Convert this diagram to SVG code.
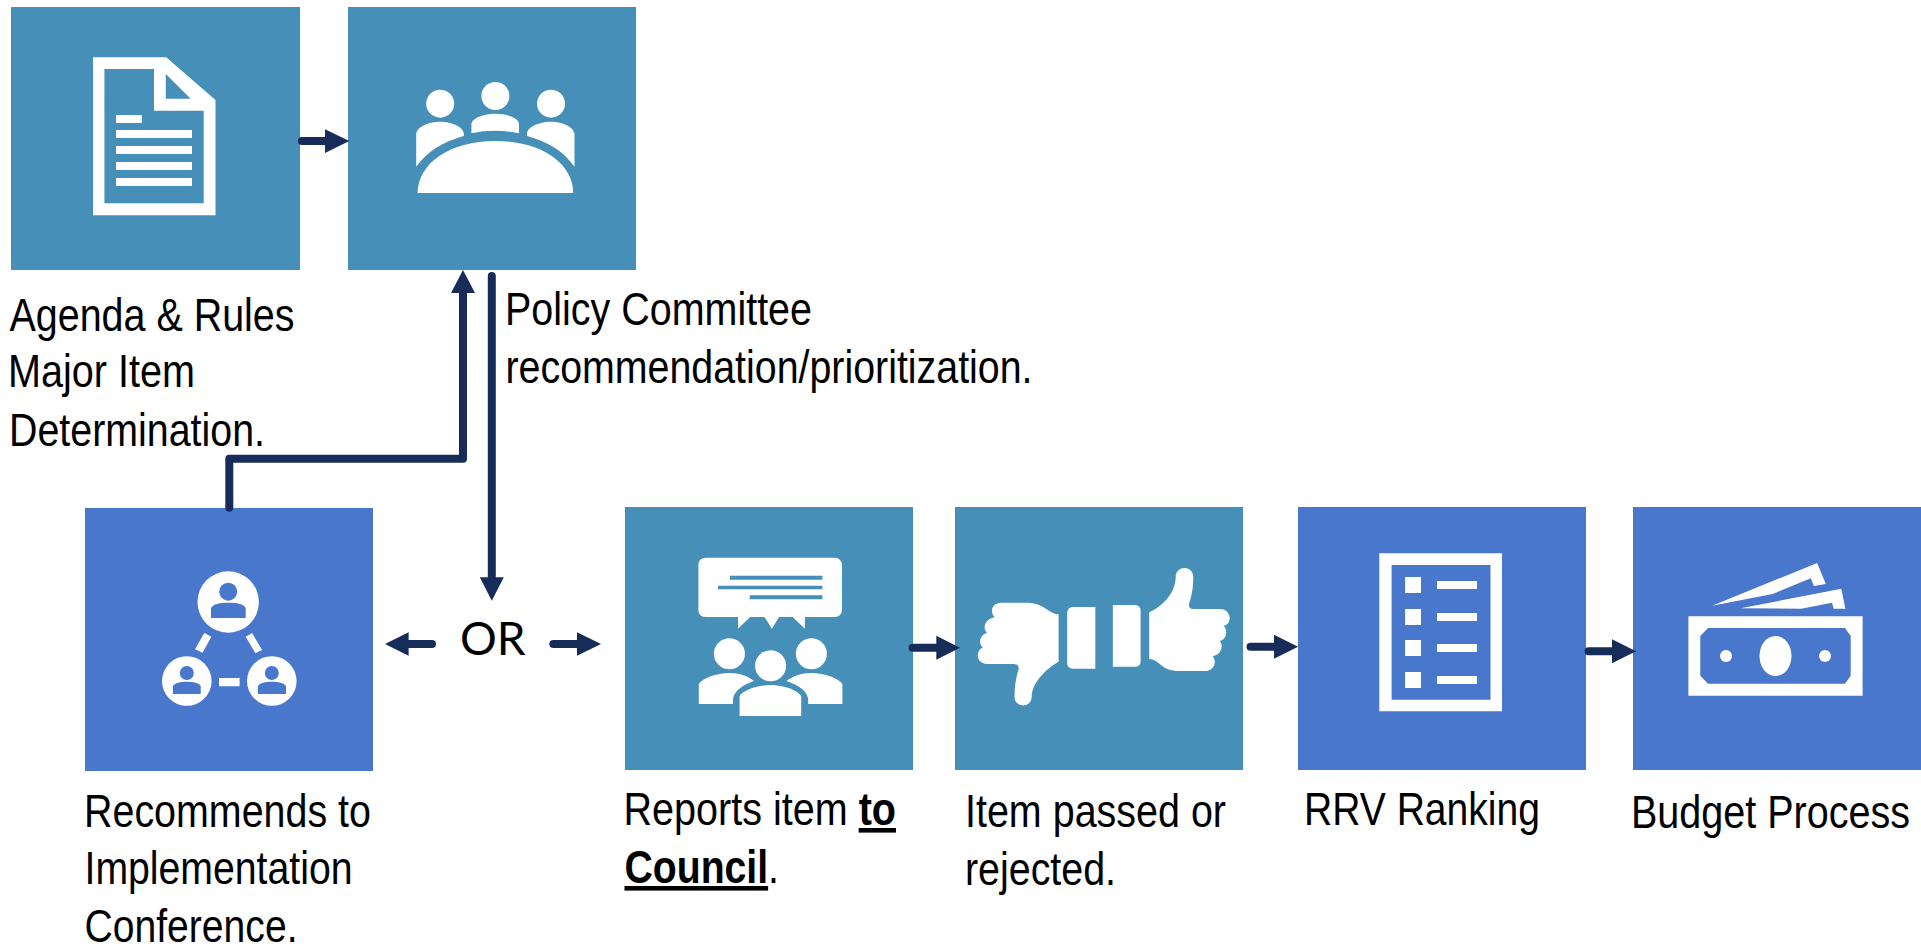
<svg xmlns="http://www.w3.org/2000/svg" width="1921" height="946" viewBox="0 0 1921 946">
<defs>
<style>
.teal{fill:#468fb9}.blue{fill:#4977cc}.w{fill:#fff}
.t{font-family:"Liberation Sans",Arial,sans-serif;font-size:46px;fill:#000}
.b{font-weight:bold;text-decoration:underline}
.or{font-family:Lato,"Noto Sans",sans-serif;font-size:46px;fill:#000}
.c{fill:none;stroke:#172c58;stroke-width:8;stroke-linecap:round;stroke-linejoin:round}
.h{fill:#172c58;stroke:none}
</style>
</defs>
<rect width="1921" height="946" fill="#fff"/>
<g id="node-agenda">
<rect class="teal" x="11" y="7" width="289" height="263"/>
<path class="w" fill-rule="evenodd" d="M93,57.3H166.2L215.5,100V215.3H93ZM104.4,69V203.3H203.7V110.7H154V69ZM165.8,74V98.7H190.7Z"/>
<path class="w" d="M116,115h25.8v8H116ZM116,130h76v8H116ZM116,146h76v8H116ZM116,162h76v8H116ZM116,178h76v8H116Z"/>
<text class="t" x="9.5" y="331" textLength="285" lengthAdjust="spacingAndGlyphs">Agenda &amp; Rules</text>
<text class="t" x="8" y="387.3" textLength="187" lengthAdjust="spacingAndGlyphs">Major Item</text>
<text class="t" x="9" y="445.5" textLength="256" lengthAdjust="spacingAndGlyphs">Determination.</text>
</g>
<g id="node-policy">
<rect class="teal" x="348" y="7" width="288" height="263"/>
<g class="w">
<circle cx="440.2" cy="103.7" r="14"/><circle cx="495.4" cy="96" r="14"/><circle cx="551" cy="103.7" r="14"/>
<path d="M416.2,166.7V134C417,126 430,121.7 440,121.7C452,121.7 463.8,127 463.8,134V136C442,142 427,152 416.2,166.7Z"/>
<path d="M471.4,133.3V124C472,118 484,113.7 495.2,113.7C507,113.7 519,118 519,124V133.3C503,130 487,130 471.4,133.3Z"/>
<path d="M574.5,166.7V134C573.7,126 561,121.7 551,121.7C539,121.7 527,127 527,134V136C549,142 564,152 574.5,166.7Z"/>
<path d="M417.5,193C418,163 450,141 495.4,141C541,141 573,163 573.2,193Z"/>
</g>
<text class="t" x="505" y="325" textLength="307" lengthAdjust="spacingAndGlyphs">Policy Committee</text>
<text class="t" x="505.5" y="382.7" textLength="527" lengthAdjust="spacingAndGlyphs">recommendation/prioritization.</text>
</g>
<g id="node-conference">
<rect class="blue" x="85" y="508" width="288" height="263"/>
<circle class="w" cx="228.2" cy="602" r="30.7"/>
<circle class="blue" cx="228.2" cy="591.7" r="9"/>
<path class="blue" d="M211,618V608C213,604 220,602.7 228.3,602.7C237,602.7 244,604 245.7,608V618Z"/>
<circle class="w" cx="186.8" cy="681" r="24.8"/>
<circle class="blue" cx="186.8" cy="673" r="7"/>
<path class="blue" d="M172.9,694V686C175,683 180,681.7 186.8,681.7C193,681.7 199,683 200.7,686V694Z"/>
<circle class="w" cx="271.8" cy="681" r="24.8"/>
<circle class="blue" cx="271.8" cy="673" r="7"/>
<path class="blue" d="M257.9,694V686C260,683 265,681.7 271.8,681.7C278,681.7 284,683 286,686V694Z"/>
<path class="w" d="M204.3,633L211.4,636.7L202.5,652.7L195,649.3ZM245.7,636.7L252.1,633L262.1,650L255.4,653.3ZM219,678H239.6V686.3H219Z"/>
<text class="t" x="84" y="826.7" textLength="287" lengthAdjust="spacingAndGlyphs">Recommends to</text>
<text class="t" x="84.5" y="884" textLength="268" lengthAdjust="spacingAndGlyphs">Implementation</text>
<text class="t" x="84.5" y="941.7" textLength="213" lengthAdjust="spacingAndGlyphs">Conference.</text>
</g>
<g id="node-or">
<text class="or" x="460" y="655">OR</text>
</g>
<g id="node-report">
<rect class="teal" x="625" y="507" width="288" height="263"/>
<path class="w" d="M705.4,557.7H835C839,557.7 842,561 842,565V610C842,614 839,617 835,617H804.9V628.7L792.7,617H779.2L771.8,628.7L764.5,617H750.2L738,628.7V617H705.4C701,617 698.4,614 698.4,610V565C698.4,561 701,557.7 705.4,557.7Z"/>
<path class="teal" d="M729.8,575.7h92.6v4h-92.6ZM718,585.7h104.4v3.6H718ZM749.8,595.3h72.6v4h-72.6Z"/>
<g class="w">
<circle cx="729.4" cy="653.7" r="15.5"/><circle cx="811.4" cy="653.7" r="15.5"/><circle cx="770.6" cy="665.7" r="15.5"/>
<path d="M698.8,704V684C703,678 716,673 729.4,673C740,673 748,676 753.9,681C742,685 733,692 733,700V704Z"/>
<path d="M842.4,704V684C838,678 825,673 811.4,673C801,673 793,676 786.5,681C799,685 808.2,692 808.2,700V704Z"/>
<path d="M739.6,716V696C743,690 757,685 770.6,685C784,685 797,690 801.2,696V716Z"/>
</g>
<text class="t" x="623.5" y="825" textLength="272.5" lengthAdjust="spacingAndGlyphs">Reports item <tspan class="b">to</tspan></text>
<text class="t" x="624.5" y="883" textLength="154.5" lengthAdjust="spacingAndGlyphs"><tspan class="b">Council</tspan>.</text>
</g>
<g id="node-vote">
<rect class="teal" x="955" y="507" width="288" height="263"/>
<g class="w" transform="translate(620,490) scale(.408,.3333)">
<path d="M1075,373C1050,370 1040,340 1000,338H935C911,338 906,365 918,382C892,388 888,420 900,428C880,435 878,465 890,472C868,485 875,522 900,522H965C975,522 978,530 977,537C970,565 967,590 967,620C967,655 1009,655 1009,620C1010,580 1040,540 1075,515Z"/>
<path d="M1096,370C1096,358 1102,351 1110,351H1165V536H1110C1102,536 1096,530 1096,520Z"/>
<path d="M1208,345H1262C1270,345 1276,352 1276,362V515C1276,524 1270,530 1262,530H1208Z"/>
<path d="M1297,367C1335,345 1362,305 1362,260C1362,225 1405,225 1405,260C1405,300 1400,320 1394,345C1394,352 1398,357 1405,357H1470C1498,357 1503,400 1480,408C1492,425 1485,450 1470,453C1482,470 1470,498 1452,498C1465,515 1455,543 1435,543H1370C1325,543 1325,510 1297,507Z"/>
</g>
<text class="t" x="965" y="827.3" textLength="261" lengthAdjust="spacingAndGlyphs">Item passed or</text>
<text class="t" x="965" y="885" textLength="151" lengthAdjust="spacingAndGlyphs">rejected.</text>
</g>
<g id="node-rrv">
<rect class="blue" x="1298" y="507" width="288" height="263"/>
<path class="w" fill-rule="evenodd" d="M1379.3,553.3H1502V711.3H1379.3ZM1391.6,565V699.7H1490.5V565Z"/>
<path class="w" d="M1405.1,577h15.9v16h-15.9ZM1405.1,609h15.9v16h-15.9ZM1405.1,640h15.9v16h-15.9ZM1405.1,672h15.9v16h-15.9ZM1437,581h40v8h-40ZM1437,613h40v8h-40ZM1437,644h40v8h-40ZM1437,676h40v8h-40Z"/>
<text class="t" x="1304" y="824.8" textLength="236" lengthAdjust="spacingAndGlyphs">RRV Ranking</text>
</g>
<g id="node-budget">
<rect class="blue" x="1633" y="507" width="288" height="263"/>
<path class="w" fill-rule="evenodd" d="M1688.4,616.3H1862.6V695.7H1688.4ZM1708,628L1700.3,636V675.7L1708,683.7H1845L1850.7,675.7V636L1845,628Z"/>
<ellipse class="w" cx="1775.5" cy="656" rx="16" ry="20"/>
<circle class="w" cx="1726" cy="656" r="6"/><circle class="w" cx="1825" cy="656" r="6"/>
<path class="w" d="M1712.1,605.7L1817.2,563L1825.8,584L1813.9,586L1810.7,578.3L1772.6,594ZM1740.7,608.3L1841.3,588.7L1845.4,608.7L1833.6,608.7L1832,602.7L1801.3,608.7Z"/>
<text class="t" x="1631" y="828" textLength="279" lengthAdjust="spacingAndGlyphs">Budget Process</text>
</g>
<g id="connectors">
<path class="c" d="M302,141H326"/><path class="h" d="M325,129.3L349.3,141L325,153Z"/>
<path class="c" d="M229.3,507.7V458.7H463V290"/><path class="h" d="M463,270L475,293H451Z"/>
<path class="c" d="M491.8,276V580"/><path class="h" d="M491.8,600.7L479.8,577.3H503.8Z"/>
<path class="c" d="M432,644H407"/><path class="h" d="M385,644L408.6,632.3V655.7Z"/>
<path class="c" d="M553.3,644H578"/><path class="h" d="M601,644L577,632.3V655.7Z"/>
<path class="c" d="M912.6,647.7H937"/><path class="h" d="M960,647.7L936.3,635.7V659.7Z"/>
<path class="c" d="M1250.5,646.7H1275"/><path class="h" d="M1298,646.7L1274,634.7V658.7Z"/>
<path class="c" d="M1588.6,651.3H1613"/><path class="h" d="M1636,651.3L1612,639.3V663.3Z"/>
</g>
</svg>
